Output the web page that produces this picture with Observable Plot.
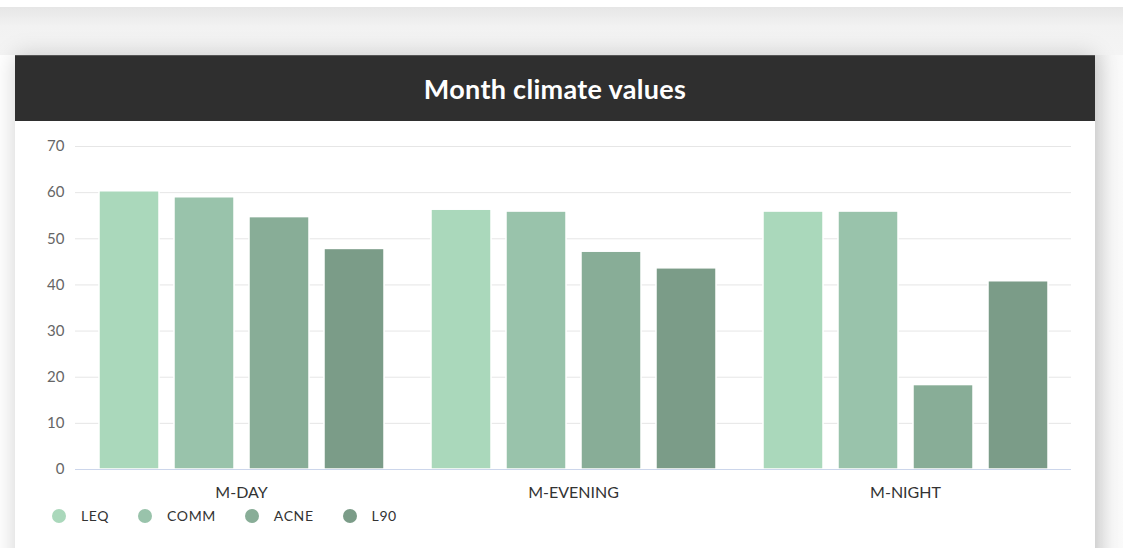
<!DOCTYPE html>
<html>
<head>
<meta charset="utf-8">
<script src="https://cdn.jsdelivr.net/npm/d3@7"></script>
<script src="https://cdn.jsdelivr.net/npm/@observablehq/plot@0.6"></script>
<style>
  html, body { margin: 0; padding: 0; background: #fff; width: 1123px; height: 548px; overflow: hidden; font-family: Lato, "Noto Sans", sans-serif; }
  #topband { position: absolute; left: 0; top: 7px; width: 1123px; height: 48px;
    background: linear-gradient(to bottom, #e6e6e6 0%, #f2f2f2 40%, #f4f4f4 100%); }
  #rightband { position: absolute; left: 1095px; top: 55px; width: 28px; height: 493px;
    background: linear-gradient(to right, #e8e8e8 0%, #f6f6f6 60%, #fafafa 100%); }
  #card { position: absolute; left: 15px; top: 55px; width: 1080px; height: 520px; background: #fff;
    box-shadow: 0 0 22px rgba(0,0,0,0.18); }
  #header { height: 66px; background: #2f2f2f; color: #fff; font-weight: 700; font-size: 27px; letter-spacing: 0.3px;
    display: flex; align-items: center; justify-content: center; border-top: 1px solid #555; box-sizing: border-box; }
  #chart { position: absolute; left: 0; top: 66px; }
  #legend { position: absolute; left: 37px; top: 452px; display: flex; align-items: center; font-size: 14px; letter-spacing: 0.6px; color: #333; }
  .item { display: flex; align-items: center; margin-right: 29px; }
  .dot { width: 14px; height: 14px; border-radius: 50%; margin-right: 15px; }
</style>
</head>
<body>
<div id="topband"></div>
<div id="rightband"></div>
<div id="card">
  <div id="header">Month climate values</div>
  <div id="chart"></div>
  <div id="legend"></div>
</div>
<script>
const periods = ["M-DAY", "M-EVENING", "M-NIGHT"];
const series = ["LEQ", "COMM", "ACNE", "L90"];
const colors = ["#aad8bb", "#99c3ab", "#88ad97", "#7b9c88"];
const LEQ  = [60.3, 56.3, 55.9];
const COMM = [59.0, 55.9, 55.9];
const ACNE = [54.7, 47.2, 18.3];
const L90  = [47.8, 43.6, 40.8];
const yTicks = [0, 10, 20, 30, 40, 50, 60, 70];

const valuesBySeries = {LEQ, COMM, ACNE, L90};
const data = [];
periods.forEach((p, i) => series.forEach(s => data.push({period: p, series: s, value: valuesBySeries[s][i]})));

const chart = Plot.plot({
  width: 1080,
  height: 385,
  marginLeft: 60,
  marginRight: 24,
  marginTop: 25,
  marginBottom: 37,
  style: {fontFamily: "Lato, 'Noto Sans', sans-serif", background: "transparent"},
  fx: {domain: periods, paddingInner: 0, paddingOuter: 0, label: null},
  x: {domain: series, paddingInner: 0.2, paddingOuter: 0.3, axis: null},
  y: {domain: [0, 70], label: null},
  color: {domain: series, range: colors},
  marks: [
    Plot.gridY(yTicks, {stroke: "#e6e6e6", strokeOpacity: 1, strokeWidth: 1}),
    Plot.barY(data, {fx: "period", x: "series", y: "value", fill: "series", stroke: "#fff", strokeWidth: 1.5}),
    Plot.ruleY([0], {stroke: "#ccd6eb", strokeWidth: 1}),
    Plot.axisY(yTicks, {tickSize: 0, tickPadding: 11, fontSize: 15, fill: "#666", label: null}),
    Plot.axisFx({anchor: "bottom", tickSize: 0, tickPadding: 17, fontSize: 16, fill: "#333", label: null,
      style: {letterSpacing: "0.6px"}})
  ]
});
document.getElementById("chart").appendChild(chart);

const legend = document.getElementById("legend");
series.forEach((s, i) => {
  const it = document.createElement("div");
  it.className = "item";
  const d = document.createElement("span");
  d.className = "dot";
  d.style.background = colors[i];
  const t = document.createElement("span");
  t.textContent = s;
  it.appendChild(d); it.appendChild(t);
  legend.appendChild(it);
});
</script>
</body>
</html>
